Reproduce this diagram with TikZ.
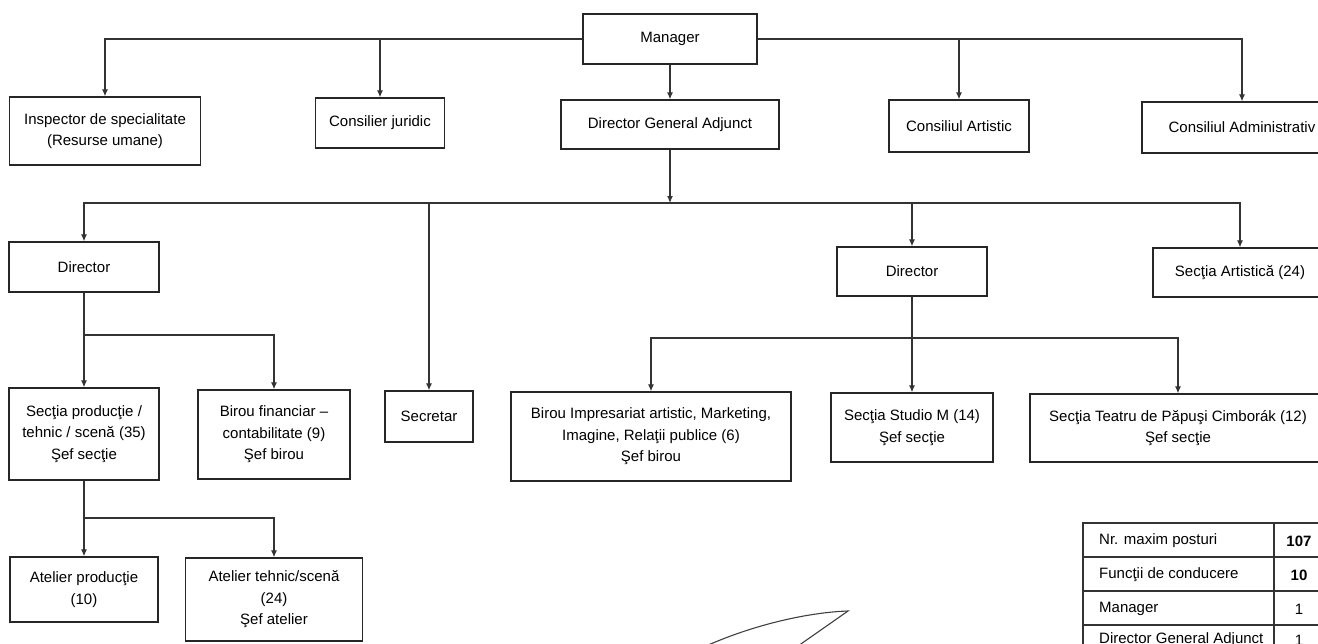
\documentclass[tikz,border=0pt]{standalone}
\usepackage{fontspec}
\setmainfont{Liberation Sans}
\usetikzlibrary{arrows.meta}

\begin{document}
\begin{tikzpicture}[x=1pt,y=-1pt,
            box/.style={draw=black!85,line width=1.3pt,align=center,inner sep=0pt,text=black,font=\fontsize{15}{21.5}\selectfont},
            wire/.style={draw=black!80,line width=1.2pt},
            link/.style={wire,-{Latex[length=7pt,width=6pt]}},
            cell/.style={inner sep=0pt,text=black,font=\fontsize{15}{18}\selectfont}]
            \fill[white] (0,0) rectangle (1318,643);
            \useasboundingbox (0,0) rectangle (1318,643);
            % first level
            \node[box,minimum width=174pt,minimum height=50pt] (mgr) at (670,39) {Manager};
            \node[box,minimum width=191pt,minimum height=68pt] (insp) at (105,131) {Inspector de specialitate\\(Resurse umane)};
            \node[box,minimum width=129pt,minimum height=50pt] (jur) at (380,123) {Consilier juridic};
            \node[box,minimum width=218pt,minimum height=49pt] (dga) at (670,124.5) {Director General Adjunct};
            \node[box,minimum width=140pt,minimum height=52pt] (cart) at (959,126) {Consiliul Artistic};
            \node[box,minimum width=200pt,minimum height=51pt] (cadm) at (1242,127.5) {Consiliul Administrativ};
            % second level
            \node[box,minimum width=150pt,minimum height=50pt] (dirL) at (84,267) {Director};
            \node[box,minimum width=150pt,minimum height=49pt] (dirR) at (912,271.5) {Director};
            \node[box,minimum width=174pt,minimum height=49pt] (sart) at (1240,272.5) {Secţia Artistică (24)};
            % third level
            \node[box,minimum width=150pt,minimum height=92pt] (sprod) at (84,434) {Secţia producţie /\\tehnic / scenă (35)\\Şef secţie};
            \node[box,minimum width=152pt,minimum height=89pt] (bfin) at (274,434.5) {Birou financiar –\\contabilitate (9)\\Şef birou};
            \node[box,minimum width=88pt,minimum height=51pt] (secr) at (429,416.5) {Secretar};
            \node[box,minimum width=280pt,minimum height=89pt] (bimp) at (651,436.5) {Birou Impresariat artistic, Marketing,\\Imagine, Relaţii publice (6)\\Şef birou};
            \node[box,minimum width=162pt,minimum height=69pt] (studio) at (912,427.5) {Secţia Studio M (14)\\Şef secţie};
            \node[box,minimum width=296pt,minimum height=68pt] (teatru) at (1178,428) {Secţia Teatru de Păpuşi Cimborák (12)\\Şef secţie};
            % workshops
            \node[box,minimum width=148pt,minimum height=65pt] (atprod) at (84,589.5) {Atelier producţie\\(10)};
            \node[box,minimum width=177pt,minimum height=83pt] (atteh) at (274,599.5) {Atelier tehnic/scenă\\(24)\\Şef atelier};
            % junctions
            \coordinate (bus) at (670,203);
            \coordinate (jL) at (84,335);
            \coordinate (jR) at (912,338);
            \coordinate (jP) at (84,518);
            % connectors
            \draw[link] (mgr.west) -| (insp.north);
            \draw[link] (mgr.west) -| (jur.north);
            \draw[link] (mgr.east) -| (cart.north);
            \draw[link] (mgr.east) -| (cadm.north);
            \draw[link] (mgr.south) -- (dga.north);
            \draw[link] (dga.south) -- (bus);
            \draw[link] (bus) -| (dirL.north);
            \draw[link] (bus) -| (secr.north);
            \draw[link] (bus) -| (dirR.north);
            \draw[link] (bus) -| (sart.north);
            \draw[wire] (dirL.south) -- (jL);
            \draw[link] (jL) -- (sprod.north);
            \draw[link] (jL) -| (bfin.north);
            \draw[wire] (dirR.south) -- (jR);
            \draw[link] (jR) -| (bimp.north);
            \draw[link] (jR) -- (studio.north);
            \draw[link] (jR) -| (teatru.north);
            \draw[wire] (sprod.south) -- (jP);
            \draw[link] (jP) -- (atprod.north);
            \draw[link] (jP) -| (atteh.north);
            % table
            \draw[wire,line width=1.3pt] (1083,523) rectangle (1340,670);
            \draw[wire,line width=1.3pt] (1083,557) -- (1340,557);
            \draw[wire,line width=1.3pt] (1083,591) -- (1340,591);
            \draw[wire,line width=1.3pt] (1083,625) -- (1340,625);
            \draw[wire,line width=1.3pt] (1274,523) -- (1274,670);
            \node[cell,anchor=west] (t1) at (1099,541) {Nr. maxim posturi};
            \node[cell,anchor=west] (t2) at (1099,575) {Funcţii de conducere};
            \node[cell,anchor=west] (t3) at (1099,609) {Manager};
            \node[cell,anchor=west] (t4) at (1099,640) {Director General Adjunct};
            \node[cell] (v1) at (1299,541) {\textbf{107}};
            \node[cell] (v2) at (1299,575) {\textbf{10}};
            \node[cell] (v3) at (1299,609) {1};
            \node[cell] (v4) at (1299,640) {1};
            % signature
            \draw[black!75,line width=1.1pt] (706,646) .. controls (760,622) and (815,612) .. (848,611) -- (798,646);
        \end{tikzpicture}
\end{document}
